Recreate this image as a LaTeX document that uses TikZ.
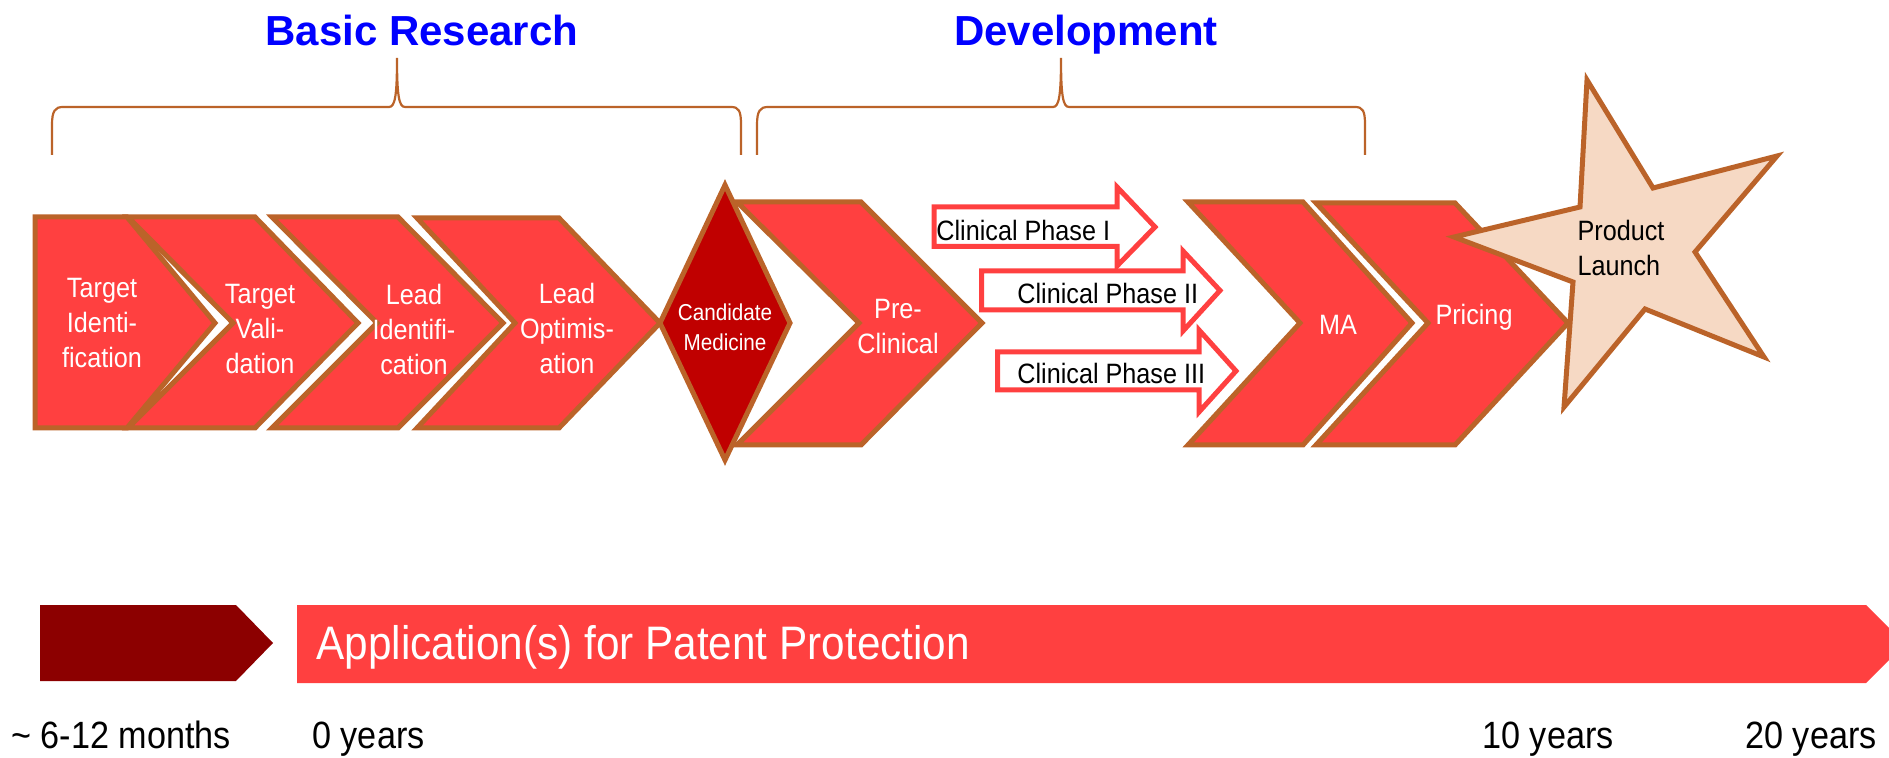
\documentclass[tikz,border=0pt]{standalone}
\usepackage{fontspec}
\setmainfont{Liberation Sans}
\newfontfamily\narrowsans[FakeStretch=0.9]{Liberation Sans}

\definecolor{stagered}{RGB}{255,64,64}
\definecolor{edgebrown}{RGB}{187,99,41}
\definecolor{gatered}{RGB}{192,0,0}
\definecolor{startred}{RGB}{140,0,0}
\definecolor{launchpeach}{RGB}{246,217,196}
\definecolor{titleblue}{RGB}{0,0,255}

\begin{document}
\begin{tikzpicture}[x=0.5pt,y=-0.5pt,
  stage/.style={fill=stagered,draw=edgebrown,line width=2.5pt,line join=miter},
  gate/.style={fill=gatered,draw=edgebrown,line width=2.5pt,line join=miter},
  phasearrow/.style={fill=white,draw=stagered,line width=2.5pt,line join=miter},
  brace/.style={draw=edgebrown,line width=1.1pt},
  steptext/.style={font=\narrowsans\fontsize{14}{17.5}\selectfont,text=white,align=center,inner sep=0pt},
  phasetext/.style={font=\narrowsans\fontsize{14}{17}\selectfont,text=black,inner sep=0pt,anchor=base west},
  titletext/.style={font=\bfseries\fontsize{21}{25}\selectfont,text=titleblue,inner sep=0pt,anchor=base},
  timetext/.style={font=\narrowsans\fontsize{19}{23}\selectfont,text=black,inner sep=0pt,anchor=base west}]
\useasboundingbox (0,0) rectangle (1889,758);
\clip (0,0) rectangle (1889,758);

% ---- phase titles and braces ----
\node[titletext] (basic) at (422,46) {Basic Research};
\node[titletext] (devel) at (1086,46) {Development};

\draw[brace] (52,155) -- (52,125) .. controls (52,111) and (55,107) .. (63,107)
  -- (389,107) .. controls (395,107) and (397,96) .. (397,58)
  .. controls (397,96) and (399,107) .. (405,107)
  -- (731,107) .. controls (739,107) and (741,111) .. (741,125) -- (741,155);
\draw[brace] (757,155) -- (757,125) .. controls (757,111) and (760,107) .. (768,107)
  -- (1053,107) .. controls (1059,107) and (1061,96) .. (1061,58)
  .. controls (1061,96) and (1063,107) .. (1069,107)
  -- (1355,107) .. controls (1363,107) and (1365,111) .. (1365,125) -- (1365,155);

% ---- basic research stages ----
\draw[stage] (35,217) -- (127,217) -- (215,323) -- (127,428) -- (35,428) -- cycle;
\draw[stage] (128,217) -- (255,217) -- (358,323) -- (255,428) -- (128,428) -- (233,323) -- cycle;
\draw[stage] (272,217) -- (398,217) -- (503,323) -- (398,428) -- (272,428) -- (377,323) -- cycle;
\draw[stage] (417,218) -- (559,218) -- (660,323) -- (559,428) -- (417,428) -- (515,323) -- cycle;

\node[steptext] (tid) at (102,323) {Target\\Identi-\\fication};
\node[steptext] (tval) at (260,329) {Target\\Vali-\\dation};
\node[steptext] (lid) at (414,329) {Lead\\Identifi-\\cation};
\node[steptext] (lopt) at (567,328) {Lead\\Optimis-\\ation};

% ---- candidate medicine gate ----
\draw[gate] (725,185) -- (790,323) -- (725,460) -- (660,323) -- cycle;
\node[steptext,font=\narrowsans\fontsize{11.5}{15}\selectfont] (cand) at (725,327) {Candidate\\Medicine};

% ---- development stages ----
\draw[stage] (737,202) -- (861,202) -- (982,323) -- (861,445) -- (737,445) -- (859,323) -- cycle;
\node[steptext] (precl) at (898,327) {Pre-\\Clinical};

\draw[phasearrow] (934,207) -- (1117,207) -- (1117,187) -- (1155,227) -- (1117,266) -- (1117,246.5) -- (934,246.5) -- cycle;
\node[phasetext] (ph1) at (936,241) {Clinical Phase I};
\draw[phasearrow] (981.5,271) -- (1183,271) -- (1183,251) -- (1220,290.5) -- (1183,331) -- (1183,310) -- (981.5,310) -- cycle;
\node[phasetext] (ph2) at (1017,304) {Clinical Phase II};
\draw[phasearrow] (997.5,352) -- (1199,352) -- (1199,330) -- (1236,371) -- (1199,412) -- (1199,390) -- (997.5,390) -- cycle;
\node[phasetext] (ph3) at (1017,384) {Clinical Phase III};

\draw[stage] (1188,202) -- (1303,202) -- (1412,323) -- (1303,445) -- (1188,445) -- (1300,323) -- cycle;
\node[steptext,anchor=base] (ma) at (1338,335) {MA};
\draw[stage] (1316,203) -- (1455,203) -- (1568,323) -- (1455,445) -- (1316,445) -- (1428,323) -- cycle;
\node[steptext,anchor=base] (pricing) at (1474,325) {Pricing};

% ---- launch star ----
\draw[fill=launchpeach,draw=edgebrown,line width=2.5pt,line join=miter]
  (1587,80) -- (1653,188) -- (1777,156) -- (1695,252) -- (1764,357) -- (1645,309)
  -- (1564,407) -- (1573,282) -- (1454,237) -- (1580,207) -- cycle;
\node[steptext,text=black,align=left] (launch) at (1621,248) {Product\\Launch};

% ---- patent timeline ----
\fill[startred] (40,605) -- (236,605) -- (273,643) -- (236,681) -- (40,681) -- cycle;
\fill[stagered] (297,605) -- (1866,605) -- (1905,644) -- (1866,683) -- (297,683) -- cycle;
\node[font=\narrowsans\fontsize{23.5}{28}\selectfont,text=white,inner sep=0pt,anchor=base west] (patent) at (316,659) {Application(s) for Patent Protection};

\node[timetext] (t0) at (11,748) {\textasciitilde{} 6-12 months};
\node[timetext] (t1) at (312,748) {0 years};
\node[timetext] (t2) at (1482,748) {10 years};
\node[timetext] (t3) at (1745,748) {20 years};
\end{tikzpicture}
\end{document}
